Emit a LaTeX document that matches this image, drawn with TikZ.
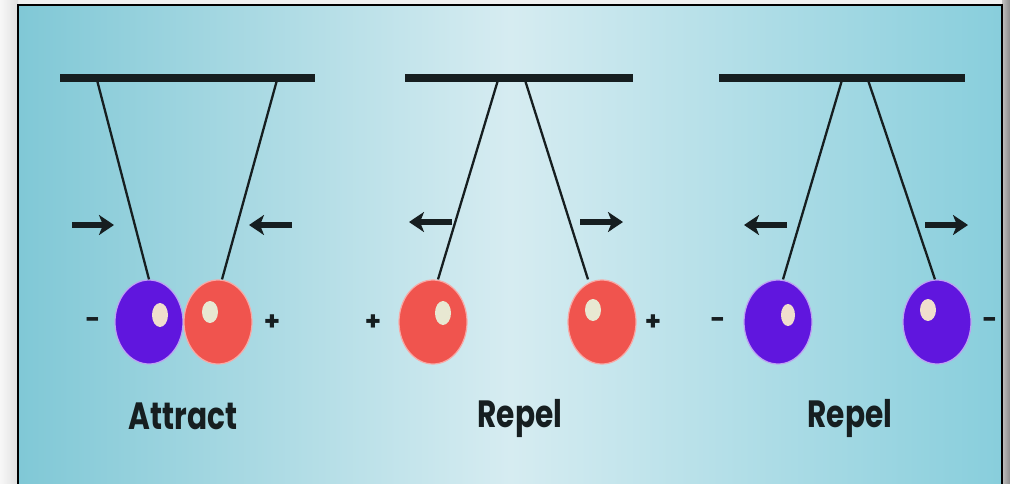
\documentclass[tikz,border=0pt]{standalone}
\usepackage{fontspec}
\setmainfont{Poppins}
\usetikzlibrary{shapes.geometric,arrows.meta}
\definecolor{bgl}{RGB}{128,200,214}
\definecolor{bgm}{RGB}{214,236,241}
\definecolor{bgr}{RGB}{136,206,220}
\definecolor{ballblue}{RGB}{96,22,222}
\definecolor{ballred}{RGB}{240,84,78}
\definecolor{hlb}{RGB}{240,222,205}
\definecolor{hlr}{RGB}{232,232,210}
\definecolor{ink}{RGB}{22,30,32}
\begin{document}
\begin{tikzpicture}[x=1pt,y=-1pt,
  bar/.style={line width=8.5pt,ink},
  stringline/.style={line width=2.3pt,ink},
  force/.style={line width=5.5pt,ink,-{Stealth[length=15pt,width=20pt,inset=4pt]}},
  blueball/.style={ellipse,fill=ballblue,minimum width=68pt,minimum height=84pt,inner sep=0pt,draw=ballblue!40!white,line width=1.2pt},
  redball/.style={ellipse,fill=ballred,minimum width=68pt,minimum height=84pt,inner sep=0pt,draw=ballred!50!white,line width=1.2pt},
  charge/.style={font=\fontsize{26}{26}\selectfont\bfseries,text=ink,inner sep=0pt},
  caption/.style={font=\fontsize{38}{40}\selectfont\bfseries,text=ink,xscale=0.78,inner sep=0pt}]
\useasboundingbox (0,0) rectangle (1010,483);
% outer page and shadows
\fill[black!6] (0,0) rectangle (1010,483);
\shade[left color=black!3,right color=black!12] (0,0) rectangle (18,483);
\shade[left color=black!25,right color=black!45] (1002,0) rectangle (1010,483);
% background
\shade[left color=bgl,right color=bgr,middle color=bgm] (18,5) rectangle (1002,490);
\draw[line width=1.6pt,black] (18,490) -- (18,5) -- (1002,5) -- (1002,490);

% bars
\draw[bar] (60,78) -- (315,78);
\draw[bar] (405,78) -- (633,78);
\draw[bar] (719,78) -- (965,78);

% attachment points
\coordinate (t1) at (97,80);
\coordinate (t2) at (277,80);
\coordinate (t3) at (498,80);
\coordinate (t4) at (525,80);
\coordinate (t5) at (842,80);
\coordinate (t6) at (868,80);

% balls
\node[blueball] (b1) at (149,322) {};
\node[redball] (b2) at (218,322) {};
\node[redball] (b3) at (433,322) {};
\node[redball] (b4) at (602,322) {};
\node[blueball] (b5) at (778,322) {};
\node[blueball] (b6) at (937,322) {};

% highlights
\fill[hlb] (160,315) ellipse (8pt and 12pt);
\fill[hlr] (210,312) ellipse (8pt and 11pt);
\fill[hlr] (443,313) ellipse (8pt and 12pt);
\fill[hlr] (593,310) ellipse (8pt and 11pt);
\fill[hlb] (788,315) ellipse (7pt and 11pt);
\fill[hlb] (928,310) ellipse (8pt and 11pt);

% strings
\draw[stringline] (t1) -- (b1.north);
\draw[stringline] (t2) -- ([xshift=4pt]b2.north);
\draw[stringline] (t3) -- ([xshift=5pt]b3.north);
\draw[stringline] (t4) -- ([xshift=-14pt]b4.north);
\draw[stringline] (t5) -- ([xshift=5pt]b5.north);
\draw[stringline] (t6) -- ([xshift=-2pt]b6.north);

% force arrows
\coordinate (a1s) at (72,225);  \coordinate (a1e) at (114,225);
\coordinate (a2s) at (292,225); \coordinate (a2e) at (249,225);
\coordinate (a3s) at (452,222); \coordinate (a3e) at (409,222);
\coordinate (a4s) at (580,222); \coordinate (a4e) at (623,222);
\coordinate (a5s) at (787,225); \coordinate (a5e) at (744,225);
\coordinate (a6s) at (925,225); \coordinate (a6e) at (968,225);
\draw[force] (a1s) -- (a1e);
\draw[force] (a2s) -- (a2e);
\draw[force] (a3s) -- (a3e);
\draw[force] (a4s) -- (a4e);
\draw[force] (a5s) -- (a5e);
\draw[force] (a6s) -- (a6e);

% charges
\node[charge] (c1) at (93,323) {-};
\node[charge] (c2) at (272,323) {+};
\node[charge] (c3) at (373,323) {+};
\node[charge] (c4) at (653,323) {+};
\node[charge] (c5) at (718,323) {-};
\node[charge] (c6) at (990,323) {-};

% captions
\node[caption] (l1) at (183,416) {Attract};
\node[caption] (l2) at (520,418) {Repel};
\node[caption] (l3) at (850,418) {Repel};
\end{tikzpicture}
\end{document}
